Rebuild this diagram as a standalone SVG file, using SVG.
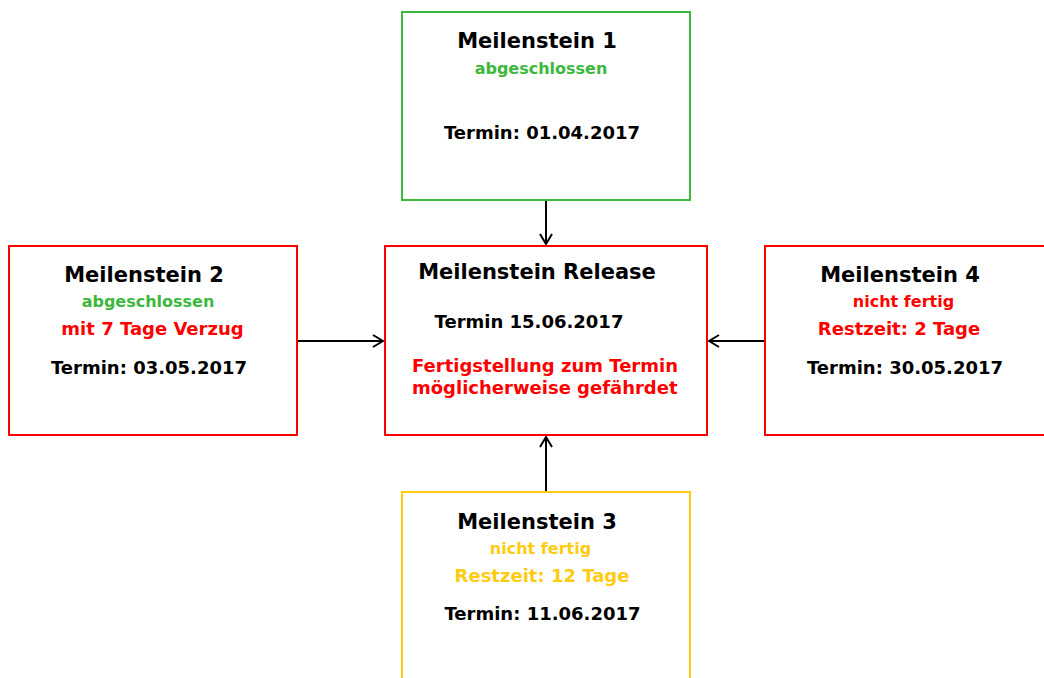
<svg xmlns="http://www.w3.org/2000/svg" width="1044" height="678" viewBox="0 0 1044 678">
<defs>
<style>
text{font-family:"DejaVu Sans","Verdana",sans-serif;font-weight:bold;text-anchor:middle}
.box{fill:#fff;stroke-width:2}
.g{stroke:#3cb83c}.r{stroke:#ff0000}.y{stroke:#ffcc11}
.t{font-size:21px;fill:#000}
.d{font-size:18px;fill:#000}
.s{font-size:16px}
.m{font-size:18px}
.cg{fill:#3cb83c}.cr{fill:#ff0000}.cy{fill:#ffcc11}
.conn{stroke:#000;stroke-width:2;fill:none}
</style>
<marker id="arr" viewBox="0 0 12 14" refX="11" refY="7" markerWidth="12" markerHeight="14" markerUnits="userSpaceOnUse" orient="auto">
<path d="M1,1 L11,7 L1,13" fill="none" stroke="#000" stroke-width="2"/>
</marker>
</defs>
<rect width="1044" height="678" fill="#fff"/>
<g id="connectors">
<line class="conn" x1="546" y1="201" x2="546" y2="244" marker-end="url(#arr)"/>
<line class="conn" x1="298" y1="341" x2="383" y2="341" marker-end="url(#arr)"/>
<line class="conn" x1="764" y1="341" x2="709" y2="341" marker-end="url(#arr)"/>
<line class="conn" x1="546" y1="491" x2="546" y2="437" marker-end="url(#arr)"/>
</g>
<g id="m1">
<rect class="box g" x="402" y="12" width="288" height="188"/>
<text class="t" x="537" y="48">Meilenstein 1</text>
<text class="s cg" x="541" y="74">abgeschlossen</text>
<text class="d" x="542" y="139">Termin: 01.04.2017</text>
</g>
<g id="m2">
<rect class="box r" x="9" y="246" width="288" height="189"/>
<text class="t" x="144" y="282">Meilenstein 2</text>
<text class="s cg" x="148" y="307">abgeschlossen</text>
<text class="m cr" x="152.5" y="335">mit 7 Tage Verzug</text>
<text class="d" x="149" y="374">Termin: 03.05.2017</text>
</g>
<g id="release">
<rect class="box r" x="385" y="246" width="322" height="189"/>
<text class="t" x="537" y="279">Meilenstein Release</text>
<text class="d" x="529" y="328">Termin 15.06.2017</text>
<text class="m cr" x="412" y="372" style="text-anchor:start">Fertigstellung zum Termin</text>
<text class="m cr" x="412" y="394" style="text-anchor:start">möglicherweise gefährdet</text>
</g>
<g id="m4">
<rect class="box r" x="765" y="246" width="290" height="189"/>
<text class="t" x="900" y="282">Meilenstein 4</text>
<text class="s cr" x="903.5" y="307">nicht fertig</text>
<text class="m cr" x="899" y="335">Restzeit: 2 Tage</text>
<text class="d" x="905" y="374">Termin: 30.05.2017</text>
</g>
<g id="m3">
<rect class="box y" x="402" y="492" width="288" height="200"/>
<text class="t" x="537" y="529">Meilenstein 3</text>
<text class="s cy" x="540.5" y="554">nicht fertig</text>
<text class="m cy" x="542" y="582">Restzeit: 12 Tage</text>
<text class="d" x="542.5" y="620">Termin: 11.06.2017</text>
</g>
</svg>
